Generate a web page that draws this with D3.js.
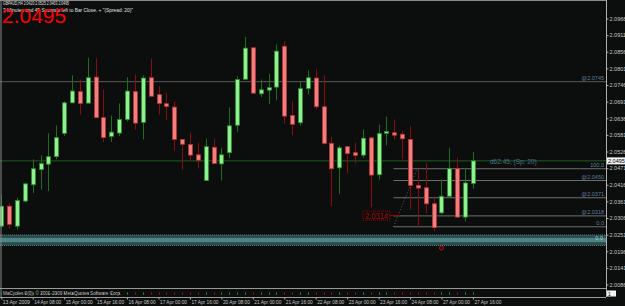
<!DOCTYPE html>
<html>
<head>
<meta charset="utf-8">
<title>GBPAUD H4</title>
<script src="https://d3js.org/d3.v7.min.js"></script>
<style>
  body { margin: 0; background: #0c0e0e; }
  svg { display: block; }
  text { font-family: "Liberation Sans", Arial, sans-serif; }
</style>
</head>
<body>
<div id="chart"></div>
<script>
// GBPAUD H4 candles, bar 0 = oldest
var open = [2.0279, 2.0345, 2.0279, 2.0362, 2.0416, 2.0466, 2.0484, 2.0509, 2.0586, 2.0687,
  2.0724, 2.0686, 2.0772, 2.0638, 2.0576, 2.0587, 2.0632, 2.0724, 2.0622, 2.0770,
  2.0714, 2.0684, 2.0673, 2.0566, 2.0549, 2.0515, 2.0430, 2.0540, 2.0485, 2.0522,
  2.0613, 2.0765, 2.0869, 2.0717, 2.0729, 2.0739, 2.0874, 2.0645, 2.0621, 2.0734,
  2.0769, 2.0674, 2.0553, 2.0472, 2.0542, 2.0522, 2.0514, 2.0571, 2.0449, 2.0586,
  2.0588, 2.0583, 2.0566, 2.0414, 2.0406, 2.0353, 2.0323, 2.0378, 2.0469, 2.0309,
  2.0420];
var high = [2.0384, 2.0356, 2.0373, 2.0422, 2.0500, 2.0513, 2.0586, 2.0612, 2.0692, 2.0778,
  2.0764, 2.0836, 2.0834, 2.0731, 2.0645, 2.0685, 2.0772, 2.0781, 2.0778, 2.0833,
  2.0742, 2.0720, 2.0691, 2.0567, 2.0588, 2.0555, 2.0569, 2.0569, 2.0538, 2.0672,
  2.0775, 2.0905, 2.0870, 2.0764, 2.0783, 2.0880, 2.0891, 2.0692, 2.0759, 2.0794,
  2.0797, 2.0778, 2.0575, 2.0546, 2.0542, 2.0555, 2.0599, 2.0575, 2.0615, 2.0641,
  2.0632, 2.0593, 2.0610, 2.0466, 2.0489, 2.0373, 2.0433, 2.0538, 2.0505, 2.0472,
  2.0525];
var low = [2.0275, 2.0271, 2.0268, 2.0357, 2.0389, 2.0400, 2.0395, 2.0500, 2.0577, 2.0686,
  2.0648, 2.0685, 2.0637, 2.0557, 2.0558, 2.0577, 2.0626, 2.0599, 2.0566, 2.0708,
  2.0648, 2.0629, 2.0529, 2.0466, 2.0494, 2.0470, 2.0428, 2.0486, 2.0430, 2.0504,
  2.0591, 2.0764, 2.0719, 2.0706, 2.0684, 2.0696, 2.0618, 2.0580, 2.0612, 2.0715,
  2.0665, 2.0549, 2.0345, 2.0386, 2.0453, 2.0486, 2.0505, 2.0342, 2.0433, 2.0546,
  2.0566, 2.0500, 2.0334, 2.0274, 2.0323, 2.0262, 2.0318, 2.0377, 2.0307, 2.0295,
  2.0403];
var close = [2.0345, 2.0285, 2.0364, 2.0419, 2.0469, 2.0486, 2.0509, 2.0572, 2.0687, 2.0726,
  2.0685, 2.0770, 2.0638, 2.0572, 2.0590, 2.0632, 2.0726, 2.0620, 2.0769, 2.0709,
  2.0685, 2.0675, 2.0566, 2.0550, 2.0514, 2.0497, 2.0542, 2.0486, 2.0515, 2.0611,
  2.0764, 2.0868, 2.0719, 2.0730, 2.0737, 2.0858, 2.0643, 2.0616, 2.0734, 2.0770,
  2.0674, 2.0553, 2.0469, 2.0538, 2.0519, 2.0513, 2.0570, 2.0448, 2.0586, 2.0592,
  2.0580, 2.0568, 2.0414, 2.0405, 2.0353, 2.0274, 2.0378, 2.0469, 2.0309, 2.0422,
  2.0495];

// price axis labels
var priceTicks = [2.0086, 2.0141, 2.0196, 2.0251, 2.0306, 2.0361, 2.0416, 2.0471, 2.0526,
  2.0581, 2.0636, 2.0691, 2.0746, 2.0801, 2.0856, 2.0911, 2.0966];

// time axis labels (every 4 bars)
var timeBars = [0, 4, 8, 12, 16, 20, 24, 28, 32, 36, 40, 44, 48, 52, 56, 60];
var timeLabels = ["13 Apr 2009", "14 Apr 08:00", "15 Apr 00:00", "15 Apr 16:00", "16 Apr 08:00",
  "17 Apr 00:00", "17 Apr 16:00", "20 Apr 08:00", "21 Apr 00:00", "21 Apr 16:00",
  "22 Apr 08:00", "23 Apr 00:00", "23 Apr 16:00", "24 Apr 08:00", "27 Apr 00:00", "27 Apr 16:00"];

// objects on chart
var bid = 2.0495;
var hLine = 2.0757;
var fibLevels = [2.0469, 2.0430, 2.0373, 2.0313, 2.0277];
var fibLabels = ["100.0", "@2.0450", "@2.0371", "@2.0318", "0.0"];
var fibStart = [49.9, 52.9];   // bar positions of the dotted trend line
var zone = [2.0250, 2.0215];
var zoneCore = [2.0240, 2.0226];
var priceTag = 2.0314;

var W = 625, H = 306;
var plotRight = 606, plotBottom = 288;

var svg = d3.select("#chart").append("svg")
  .attr("width", W).attr("height", H);

svg.append("rect").attr("width", W).attr("height", H).attr("fill", "#0c0e0e");

var x = d3.scaleLinear().domain([0, 60]).range([1.3, 472.9]);
var y = d3.scaleLinear().domain([2.0086, 2.0966]).range([284.5, 18.5]);

var plot = svg.append("g");

// zone band
plot.append("rect")
  .attr("x", 0).attr("width", plotRight)
  .attr("y", y(zone[0])).attr("height", y(zone[1]) - y(zone[0]))
  .attr("fill", "#2b4a4b");
plot.append("rect")
  .attr("x", 0).attr("width", plotRight)
  .attr("y", y(zoneCore[0])).attr("height", y(zoneCore[1]) - y(zoneCore[0]))
  .attr("fill", "#4d8485");
[zone[0], zone[1]].forEach(function (p) {
  plot.append("line")
    .attr("x1", 0).attr("x2", plotRight)
    .attr("y1", y(p)).attr("y2", y(p))
    .attr("stroke", "#6a8c8c").attr("stroke-dasharray", "1,1").attr("stroke-width", 0.8);
});
plot.append("text").attr("x", 603).attr("y", y(zoneCore[0]) + 2.5)
  .attr("text-anchor", "end").attr("font-size", 5.5).attr("fill", "#9fd0d0").text("0.0");

// grey horizontal line
plot.append("line")
  .attr("x1", 0).attr("x2", plotRight)
  .attr("y1", y(hLine)).attr("y2", y(hLine))
  .attr("stroke", "#5a5a5a").attr("stroke-width", 1);
plot.append("text").attr("x", 604).attr("y", y(hLine) - 2)
  .attr("text-anchor", "end").attr("font-size", 5.5).attr("fill", "#5f7f9f").text("@2.0745");

// bid line
plot.append("line")
  .attr("x1", 0).attr("x2", plotRight)
  .attr("y1", y(bid)).attr("y2", y(bid))
  .attr("stroke", "#1d5a1d").attr("stroke-width", 1);

// fibonacci levels
plot.selectAll(".fib").data(fibLevels).enter().append("line")
  .attr("x1", x(fibStart[0])).attr("x2", plotRight)
  .attr("y1", function (d) { return y(d); }).attr("y2", function (d) { return y(d); })
  .attr("stroke", "#6e6e6e").attr("stroke-width", 1);
plot.selectAll(".fibl").data(fibLevels).enter().append("text")
  .attr("x", 604).attr("y", function (d) { return y(d) - 2; })
  .attr("text-anchor", "end").attr("font-size", 5.5).attr("fill", "#5f7f9f")
  .text(function (d, i) { return fibLabels[i]; });
plot.append("line")
  .attr("x1", x(fibStart[0])).attr("y1", y(fibLevels[4]))
  .attr("x2", x(fibStart[1])).attr("y2", y(fibLevels[0]))
  .attr("stroke", "#6e6e6e").attr("stroke-dasharray", "1,2").attr("stroke-width", 0.8);

// candles
var bars = d3.range(open.length);
var bodyW = 5;
plot.selectAll(".wick").data(bars).enter().append("line")
  .attr("x1", function (i) { return Math.round(x(i)) + 0.5; })
  .attr("x2", function (i) { return Math.round(x(i)) + 0.5; })
  .attr("y1", function (i) { return y(high[i]); })
  .attr("y2", function (i) { return y(low[i]); })
  .attr("stroke", function (i) { return close[i] >= open[i] ? "#1f6e1f" : "#8a0c0c"; })
  .attr("stroke-width", 1);
plot.selectAll(".body").data(bars).enter().append("rect")
  .attr("x", function (i) { return Math.round(x(i)) - 1.5; })
  .attr("width", bodyW - 1)
  .attr("y", function (i) { return y(Math.max(open[i], close[i])); })
  .attr("height", function (i) { return Math.max(1.5, Math.abs(y(open[i]) - y(close[i]))); })
  .attr("fill", function (i) { return close[i] >= open[i] ? "#8ff08f" : "#f08080"; })
  .attr("stroke", function (i) { return close[i] >= open[i] ? "#2c8a2c" : "#b83232"; })
  .attr("stroke-width", 0.8);

// price tag box
var tagY = y(priceTag);
plot.append("rect").attr("x", 363).attr("y", tagY - 4.5).attr("width", 27).attr("height", 9)
  .attr("fill", "none").attr("stroke", "#a00000").attr("stroke-dasharray", "1,1");
plot.append("text").attr("x", 365).attr("y", tagY + 3.2)
  .attr("font-size", 8.5).attr("fill", "#b00000")
  .attr("textLength", 23).attr("lengthAdjust", "spacingAndGlyphs")
  .text(priceTag.toFixed(4));
plot.append("line").attr("x1", 390).attr("x2", 400).attr("y1", tagY).attr("y2", tagY)
  .attr("stroke", "#a00000");

// red marker under bar 56
plot.append("circle").attr("cx", x(56)).attr("cy", 248).attr("r", 2)
  .attr("fill", "none").attr("stroke", "#d01010").attr("stroke-width", 1);

// spread text
plot.append("text").attr("x", 490).attr("y", y(bid) + 3.5)
  .attr("font-size", 6.5).attr("fill", "#4f6f92").text("d62.45, (Sp: 20)");

// frame
svg.append("line").attr("x1", 1).attr("x2", 1).attr("y1", 0).attr("y2", 297).attr("stroke", "#8a8a8a");
svg.append("line").attr("x1", 0).attr("x2", plotRight).attr("y1", 0.5).attr("y2", 0.5).attr("stroke", "#8a8a8a");
svg.append("line").attr("x1", plotRight + 0.5).attr("x2", plotRight + 0.5).attr("y1", 0).attr("y2", 297).attr("stroke", "#b0b0b0");
svg.append("line").attr("x1", 0).attr("x2", plotRight).attr("y1", plotBottom + 0.5).attr("y2", plotBottom + 0.5).attr("stroke", "#9a9a9a");
svg.append("line").attr("x1", 0).attr("x2", plotRight).attr("y1", 297.5).attr("y2", 297.5).attr("stroke", "#9a9a9a");

// price axis
var yAxis = svg.append("g")
  .attr("transform", "translate(" + (plotRight + 0.5) + ",0)")
  .call(d3.axisRight(y).tickValues(priceTicks).tickSize(2).tickSizeOuter(0)
    .tickFormat(d3.format(".4f")));
yAxis.select(".domain").remove();
yAxis.selectAll("line").attr("stroke", "#b0b0b0");
yAxis.selectAll("text").attr("fill", "#c8c8c8").attr("font-size", 5.5).attr("x", 3);

// bid box on axis
svg.append("rect").attr("x", 607).attr("y", y(bid) - 3.5).attr("width", 18).attr("height", 7).attr("fill", "#f2f2f2");
svg.append("text").attr("x", 608).attr("y", y(bid) + 2).attr("font-size", 5.5).attr("fill", "#000").text(bid.toFixed(4));

// indicator sub-window
var ind = svg.append("g");
ind.selectAll(".hm").data(bars).enter().append("rect")
  .attr("x", function (i) { return Math.round(x(i)); })
  .attr("y", 292.5).attr("width", 1).attr("height", 2)
  .attr("fill", function (i) { return close[i] >= open[i] ? "#2fa02f" : "#c01010"; });
ind.append("text").attr("x", 3).attr("y", 295).attr("font-size", 5).attr("fill", "#c0c0c0")
  .attr("textLength", 118).attr("lengthAdjust", "spacingAndGlyphs")
  .text("MaCycles 0(0),  © 2001-2009 MetaQuotes Software Corp.");
svg.append("rect").attr("x", 607).attr("y", 290.5).attr("width", 9).attr("height", 6).attr("fill", "#f2f2f2");
svg.append("text").attr("x", 608).attr("y", 295.5).attr("font-size", 5).attr("fill", "#000").text("1");

// time axis
var xAxis = svg.append("g")
  .attr("transform", "translate(0,297.5)")
  .call(d3.axisBottom(x).tickValues(timeBars).tickSize(2).tickSizeOuter(0)
    .tickFormat(function (d, i) { return timeLabels[i]; }));
xAxis.select(".domain").remove();
xAxis.selectAll("line").attr("stroke", "#b0b0b0");
xAxis.selectAll("text").attr("fill", "#c8c8c8").attr("font-size", 5.5)
  .attr("text-anchor", "start").attr("x", 1).attr("y", 3).attr("dy", "0.71em")
  .attr("textLength", 27).attr("lengthAdjust", "spacingAndGlyphs");

// header
svg.append("text").attr("x", 3).attr("y", 5).attr("font-size", 4.5).attr("fill", "#e0e0e0")
  .attr("textLength", 66).attr("lengthAdjust", "spacingAndGlyphs")
  .text("GBPAUD,H4  2.0420 2.0525 2.0403 2.0495");
svg.append("text").attr("x", 3).attr("y", 11.5).attr("font-size", 4.5).attr("fill", "#e0e0e0")
  .attr("textLength", 130).attr("lengthAdjust", "spacingAndGlyphs")
  .text("3 Minutes and 45 Seconds left to Bar Close. + \"(Spread: 20)\"");
svg.append("text").attr("x", 2).attr("y", 23).attr("font-size", 21).attr("fill", "#ff0000")
  .text(close[close.length - 1].toFixed(4));
</script>
</body>
</html>
